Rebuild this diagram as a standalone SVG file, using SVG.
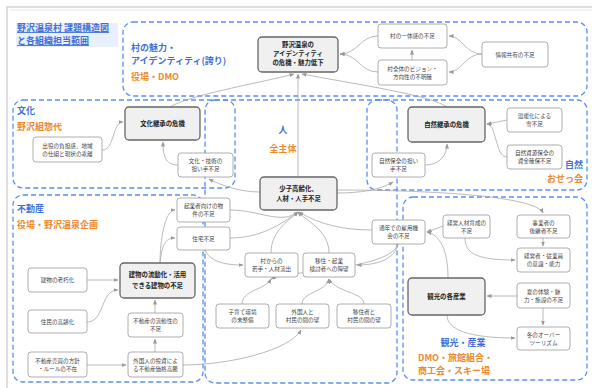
<svg xmlns="http://www.w3.org/2000/svg" width="592" height="388" viewBox="0 0 592 388">
<style>
.frame{fill:none;stroke:#c8c8c8;stroke-width:1.2}
.region{fill:none;stroke:#5b8ef0;stroke-width:1.3;stroke-dasharray:5 3}
.nd rect{fill:#fff;stroke:#9a9a9a;stroke-width:0.8}
.nd text{font-family:"Noto Sans CJK JP","Noto Sans",sans-serif;font-size:5.6px;fill:#444;text-anchor:middle}
.mn rect{fill:#f0f0f0;stroke:#666;stroke-width:1.3}
.mn text{font-family:"Noto Sans CJK JP","Noto Sans",sans-serif;font-size:6.4px;font-weight:bold;fill:#222;text-anchor:middle}
.lb{font-family:"Noto Sans CJK JP","Noto Sans",sans-serif;font-size:9px;font-weight:bold}
.bl{fill:#3f6fd6}
.or{fill:#ec8a2c}
#connectors path{fill:none;stroke:#a8a8a8;stroke-width:0.8;marker-end:url(#ah)}
</style>
<defs>
<marker id="ah" viewBox="0 0 10 10" refX="9" refY="5" markerWidth="5" markerHeight="5" orient="auto" markerUnits="userSpaceOnUse">
<path d="M0,1 L10,5 L0,9 z" fill="#999"/>
</marker>
</defs>
<rect width="592" height="388" fill="#fff"/>
<rect class="frame" x="7" y="7" width="590" height="384"/>
<line x1="10" y1="10" x2="592" y2="10" stroke="#e0e0e0" stroke-width="0.8"/>

<g id="regions">
<rect class="region" x="123" y="22" width="464" height="74" rx="10"/>
<rect class="region" x="13" y="100" width="222" height="88" rx="10"/>
<rect class="region" x="205" y="100" width="192" height="283" rx="10"/>
<rect class="region" x="367" y="100" width="220" height="90" rx="10"/>
<rect class="region" x="13" y="195" width="190" height="187" rx="10"/>
<rect class="region" x="403" y="197" width="184" height="183" rx="10"/>
</g>

<g id="labels">
<rect x="16" y="23" width="102" height="24" fill="#e9effc"/>
<text class="lb bl" x="17" y="31" font-weight="normal" text-decoration="underline">野沢温泉村 課題構造図</text>
<text class="lb bl" x="17" y="44" font-weight="normal" text-decoration="underline">と各組織担当範囲</text>
<text class="lb bl" x="131" y="51">村の魅力・</text>
<text class="lb bl" x="131" y="64">アイデンティティ(誇り)</text>
<text class="lb or" x="131" y="80">役場・DMO</text>
<text class="lb bl" x="17" y="114">文化</text>
<text class="lb or" x="17" y="130">野沢組惣代</text>
<text class="lb bl" x="283" y="133" text-anchor="middle" font-size="10">人</text>
<text class="lb or" x="283" y="152" text-anchor="middle">全主体</text>
<text class="lb bl" x="583" y="168" text-anchor="end">自然</text>
<text class="lb or" x="583" y="182" text-anchor="end">おせっ会</text>
<text class="lb bl" x="17" y="212">不動産</text>
<text class="lb or" x="17" y="228">役場・野沢温泉企画</text>
<text class="lb bl" x="463" y="346" text-anchor="middle">観光・産業</text>
<text class="lb or" x="418" y="361">DMO・旅館組合・</text>
<text class="lb or" x="418" y="374">商工会・スキー場</text>
</g>

<g id="connectors">
<path d="M482,54 C465,54 462,36 449,36"/>
<path d="M482,54 C465,54 462,72 449,72"/>
<path d="M378,36 C360,36 358,54 340,54"/>
<path d="M378,72 C360,72 358,54 340,54"/>
<path d="M412,60 L412,50"/>
<path d="M170,107 C190,95 250,85 294,74"/>
<path d="M447,107 C430,95 360,85 302,74"/>
<path d="M298,177 L298,74"/>
<path d="M102,150 C115,150 112,122 123,122"/>
<path d="M178,165 C165,165 163,155 163,142"/>
<path d="M260,192 C240,192 220,185 209,179"/>
<path d="M507,120 L487,124"/>
<path d="M507,157 C495,157 497,125 487,124"/>
<path d="M425,165 C440,165 447,155 447,144"/>
<path d="M337,193 C360,193 380,190 393,182"/>
<path d="M337,190 C420,190 535,195 543,213"/>
<path d="M87,280 L118,280"/>
<path d="M87,322 C105,322 100,290 118,290"/>
<path d="M87,365 L126,365"/>
<path d="M155,352 L155,339"/>
<path d="M155,313 L155,300"/>
<path d="M160,263 C160,240 165,210 175,210"/>
<path d="M160,263 C162,245 165,238 175,238"/>
<path d="M183,365 C230,365 290,350 301,330"/>
<path d="M230,210 C260,210 280,225 298,212"/>
<path d="M230,238 C260,238 280,225 298,212"/>
<path d="M372,230 C345,230 320,225 299,212"/>
<path d="M271,253 C271,230 290,220 298,212"/>
<path d="M329,253 C329,230 305,220 298,212"/>
<path d="M205,250 C210,262 225,265 243,265"/>
<path d="M398,244 C395,258 380,265 357,265"/>
<path d="M242,304 C242,290 265,290 271,279"/>
<path d="M302,304 C302,292 326,292 329,279"/>
<path d="M364,304 C364,292 335,292 329,279"/>
<path d="M398,244 C390,270 290,270 271,279"/>
<path d="M443,226 L427,232"/>
<path d="M465,238 C465,255 480,260 515,260"/>
<path d="M543,238 L543,246"/>
<path d="M448,278 C448,250 440,235 427,232"/>
<path d="M517,296 L487,296"/>
<path d="M543,308 L543,325"/>
<path d="M447,315 C447,330 470,338 515,338"/>
</g>

<g id="n-identity" class="mn"><rect x="258" y="37" width="80" height="35" rx="4"/><text x="298" y="47">野沢温泉の</text><text x="298" y="56">アイデンティティ</text><text x="298" y="65">の危機・魅力低下</text></g>
<g id="n-unity" class="nd"><rect x="378" y="24" width="69" height="24" rx="3"/><text x="412.5" y="38">村の一体感の不足</text></g>
<g id="n-vision" class="nd"><rect x="378" y="60" width="69" height="25" rx="3"/><text x="412.5" y="71">村全体のビジョン・</text><text x="412.5" y="79">方向性の不明確</text></g>
<g id="n-info" class="nd"><rect x="482" y="42" width="66" height="25" rx="3"/><text x="515" y="56.5">情報共有の不足</text></g>

<g id="n-culture" class="mn"><rect x="125" y="107" width="75" height="33" rx="4"/><text x="162.5" y="126">文化継承の危機</text></g>
<g id="n-deyaku" class="nd"><rect x="33" y="137" width="69" height="25" rx="3"/><text x="67.5" y="148">出役の負担感、地域</text><text x="67.5" y="156">の仕組と現状の乖離</text></g>
<g id="n-culturetech" class="nd"><rect x="178" y="153" width="55" height="24" rx="3"/><text x="205.5" y="163">文化・技術の</text><text x="205.5" y="171">担い手不足</text></g>

<g id="n-aging" class="mn"><rect x="260" y="177" width="77" height="33" rx="4"/><text x="298.5" y="191">少子高齢化、</text><text x="298.5" y="201">人材・人手不足</text></g>

<g id="n-nature" class="mn"><rect x="408" y="107" width="77" height="35" rx="4"/><text x="446.5" y="127">自然継承の危機</text></g>
<g id="n-snow" class="nd"><rect x="507" y="108" width="55" height="24" rx="3"/><text x="534.5" y="118">温暖化による</text><text x="534.5" y="126">雪不足</text></g>
<g id="n-fund" class="nd"><rect x="507" y="145" width="55" height="24" rx="3"/><text x="534.5" y="155">自然資源保全の</text><text x="534.5" y="163">資金確保不足</text></g>
<g id="n-natureppl" class="nd"><rect x="372" y="153" width="53" height="24" rx="3"/><text x="398.5" y="163">自然保全の担い</text><text x="398.5" y="171">手不足</text></g>

<g id="n-building" class="mn"><rect x="120" y="263" width="75" height="35" rx="4"/><text x="157.5" y="277">建物の流動化・活用</text><text x="157.5" y="288">できる建物の不足</text></g>
<g id="n-old" class="nd"><rect x="28" y="268" width="59" height="24" rx="3"/><text x="57.5" y="282">建物の老朽化</text></g>
<g id="n-resaging" class="nd"><rect x="28" y="310" width="59" height="23" rx="3"/><text x="57.5" y="323.5">住民の高齢化</text></g>
<g id="n-rule" class="nd"><rect x="28" y="352" width="59" height="25" rx="3"/><text x="57.5" y="363">不動産売買の方針</text><text x="57.5" y="371">・ルールの不在</text></g>
<g id="n-liquid" class="nd"><rect x="128" y="313" width="55" height="24" rx="3"/><text x="155.5" y="323">不動産の流動性の</text><text x="155.5" y="331">不足</text></g>
<g id="n-foreigninv" class="nd"><rect x="128" y="352" width="55" height="25" rx="3"/><text x="155.5" y="363">外国人の投資によ</text><text x="155.5" y="371">る不動産価格高騰</text></g>
<g id="n-startup" class="nd"><rect x="177" y="198" width="53" height="24" rx="3"/><text x="203.5" y="208">起業者向けの物</text><text x="203.5" y="216">件の不足</text></g>
<g id="n-housing" class="nd"><rect x="177" y="227" width="53" height="23" rx="3"/><text x="203.5" y="240.5">住宅不足</text></g>

<g id="n-outflow" class="nd"><rect x="245" y="253" width="53" height="24" rx="3"/><text x="271.5" y="263">村からの</text><text x="271.5" y="271">若手・人材流出</text></g>
<g id="n-barrier" class="nd"><rect x="303" y="253" width="52" height="24" rx="3"/><text x="329" y="263">移住・起業</text><text x="329" y="271">検討者への障壁</text></g>
<g id="n-child" class="nd"><rect x="216" y="304" width="53" height="24" rx="3"/><text x="242.5" y="314">子育て環境</text><text x="242.5" y="322">の未整備</text></g>
<g id="n-foreignwall" class="nd"><rect x="276" y="304" width="53" height="24" rx="3"/><text x="302.5" y="314">外国人と</text><text x="302.5" y="322">村民の間の壁</text></g>
<g id="n-migrantwall" class="nd"><rect x="337" y="304" width="54" height="24" rx="3"/><text x="364" y="314">移住者と</text><text x="364" y="322">村民の間の壁</text></g>
<g id="n-yearround" class="nd"><rect x="372" y="220" width="53" height="24" rx="3"/><text x="398.5" y="230">通年での雇用機</text><text x="398.5" y="238">会の不足</text></g>

<g id="n-mgmt" class="nd"><rect x="443" y="215" width="47" height="23" rx="3"/><text x="466.5" y="225">経営人材育成の</text><text x="466.5" y="233">不足</text></g>
<g id="n-successor" class="nd"><rect x="517" y="215" width="53" height="23" rx="3"/><text x="543.5" y="225">事業者の</text><text x="543.5" y="233">後継者不足</text></g>
<g id="n-awareness" class="nd"><rect x="517" y="248" width="53" height="24" rx="3"/><text x="543.5" y="258">経営者・従業員</text><text x="543.5" y="266">の意識・能力</text></g>
<g id="n-tourism" class="mn"><rect x="408" y="278" width="77" height="37" rx="4"/><text x="446.5" y="299">観光の各産業</text></g>
<g id="n-summer" class="nd"><rect x="517" y="283" width="53" height="25" rx="3"/><text x="543.5" y="294">夏の体験・魅</text><text x="543.5" y="302">力・施設の不足</text></g>
<g id="n-winter" class="nd"><rect x="517" y="327" width="53" height="23" rx="3"/><text x="543.5" y="337">冬のオーバー</text><text x="543.5" y="345">ツーリズム</text></g>
</svg>
